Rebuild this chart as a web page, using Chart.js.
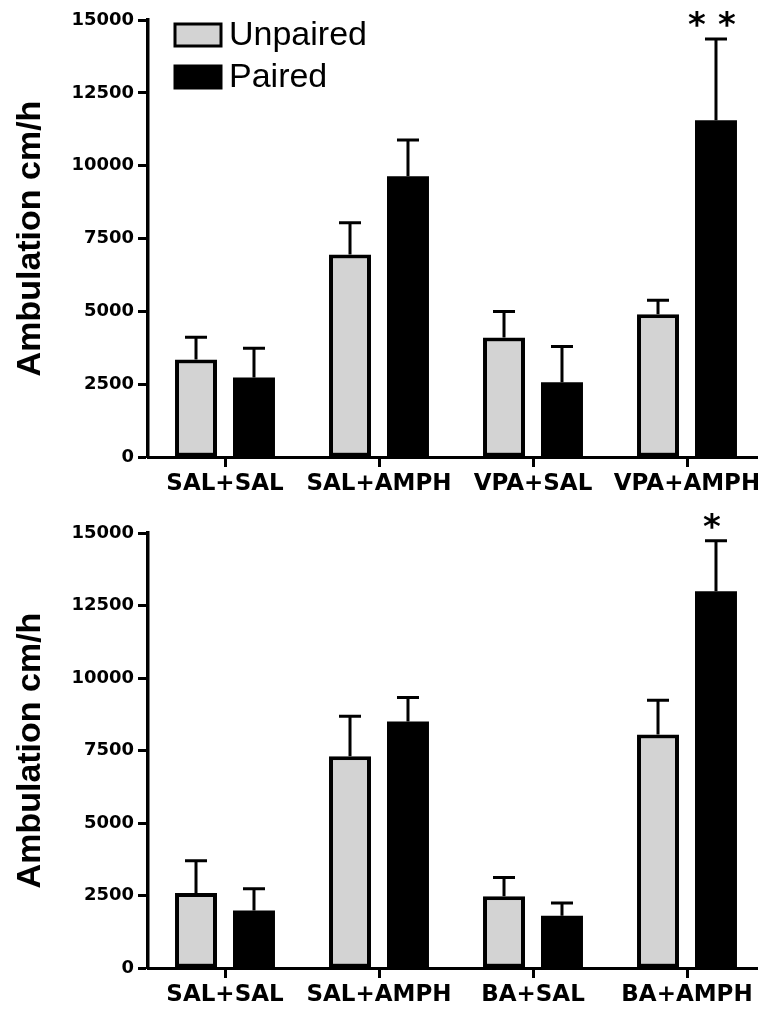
<!DOCTYPE html>
<html><head><meta charset="utf-8">
<script src="https://cdn.jsdelivr.net/npm/chart.js@4.4.1/dist/chart.umd.min.js"></script>
<style>
html,body{margin:0;padding:0;background:#fff;overflow:hidden;width:758px;height:1009px;position:relative;}
#c1{position:absolute;left:0;top:0;}
#c2{position:absolute;left:0;top:500px;}
</style></head><body>
<canvas id="c1" width="766" height="505"></canvas>
<canvas id="c2" width="766" height="509"></canvas>
<script>
// ---- data ----
const seriesNames = ['Unpaired', 'Paired'];
const yTickValues = [0, 2500, 5000, 7500, 10000, 12500, 15000];
const yTitle = 'Ambulation cm/h';

const categoriesTop = ['SAL+SAL', 'SAL+AMPH', 'VPA+SAL', 'VPA+AMPH'];
const unpairedTop = [3350, 6950, 4100, 4900];
const unpairedTopSem = [760, 1090, 890, 480];
const pairedTop = [2730, 9640, 2570, 11560];
const pairedTopSem = [1000, 1240, 1220, 2790];
const starsTop = ['', '', '', '**'];

const categoriesBottom = ['SAL+SAL', 'SAL+AMPH', 'BA+SAL', 'BA+AMPH'];
const unpairedBottom = [2590, 7300, 2470, 8050];
const unpairedBottomSem = [1110, 1380, 655, 1180];
const pairedBottom = [1980, 8500, 1800, 12990];
const pairedBottomSem = [750, 830, 440, 1740];
const starsBottom = ['', '', '', '*'];

const GRAY = '#d3d3d3';

const errorBarPlugin = {
  id: 'errbars',
  afterDatasetsDraw(chart) {
    const ctx = chart.ctx, y = chart.scales.y;
    chart.data.datasets.forEach((ds, di) => {
      const meta = chart.getDatasetMeta(di);
      meta.data.forEach((bar, i) => {
        const v = ds.data[i], e = ds.sem[i];
        const yTop = y.getPixelForValue(v + e);
        const yBar = y.getPixelForValue(v);
        ctx.save();
        ctx.strokeStyle = '#000';
        ctx.lineWidth = 3;
        ctx.beginPath();
        ctx.moveTo(bar.x, yBar); ctx.lineTo(bar.x, yTop);
        ctx.moveTo(bar.x - 11, yTop); ctx.lineTo(bar.x + 11, yTop);
        ctx.stroke();
        const s = ds.stars ? ds.stars[i] : '';
        if (s) {
          ctx.fillStyle = '#000';
          ctx.font = 'bold 34px "DejaVu Sans"';
          ctx.textAlign = 'center';
          ctx.textBaseline = 'alphabetic';
          const n = s.length, gap = 30;
          for (let k = 0; k < n; k++) {
            const x = bar.x - 4 + (k - (n - 1) / 2) * gap;
            ctx.fillText('*', x, yTop - 3);
          }
        }
        ctx.restore();
      });
    });
  }
};

const legendPlugin = {
  id: 'boxLegend',
  afterDraw(chart, args, opts) {
    if (!opts.show) return;
    const ctx = chart.ctx;
    ctx.save();
    chart.data.datasets.forEach((ds, i) => {
      const bx = 175, by = 24 + i * 42, bw = 46, bh = 22;
      ctx.fillStyle = ds.backgroundColor;
      ctx.fillRect(bx, by, bw, bh);
      ctx.strokeStyle = '#000';
      ctx.lineWidth = 3;
      ctx.strokeRect(bx, by, bw, bh);
      ctx.fillStyle = '#000';
      ctx.font = '34px "Liberation Sans"';
      ctx.textAlign = 'left';
      ctx.textBaseline = 'middle';
      ctx.fillText(ds.label, 229, by + bh / 2 + 1);
    });
    ctx.restore();
  }
};

function makeChart(id, cats, u, uSem, p, pSem, stars, padTop, xHeight, showLegend) {
  return new Chart(document.getElementById(id), {
    type: 'bar',
    data: {
      labels: cats,
      datasets: [
        { label: seriesNames[0], data: u, sem: uSem, backgroundColor: GRAY, borderColor: '#000', borderWidth: 4, borderSkipped: false,
          barPercentage: 0.724, categoryPercentage: 0.753 },
        { label: seriesNames[1], data: p, sem: pSem, stars: stars, backgroundColor: '#000', borderColor: '#000', borderWidth: 0,
          barPercentage: 0.724, categoryPercentage: 0.753 }
      ]
    },
    options: {
      responsive: false,
      devicePixelRatio: 1,
      animation: false,
      layout: { padding: { top: padTop, right: 2, left: 0, bottom: 0 } },
      plugins: { legend: { display: false }, tooltip: { enabled: false }, boxLegend: { show: showLegend } },
      scales: {
        x: {
          offset: true,
          afterFit(s) { s.height = xHeight; },
          border: { display: true, color: '#000', width: 3 },
          grid: { offset: false, drawOnChartArea: false, drawTicks: true, tickLength: 10, tickWidth: 3, tickColor: '#000', color: '#000' },
          ticks: { color: '#000', font: { family: 'DejaVu Sans', weight: 'bold', size: 23 }, padding: 3, maxRotation: 0, autoSkip: false }
        },
        y: {
          min: 0, max: 15000,
          afterFit(s) { s.width = 148; },
          afterBuildTicks(s) { s.ticks = yTickValues.map(v => ({ value: v })); },
          border: { display: true, color: '#000', width: 3.5 },
          grid: { drawOnChartArea: false, drawTicks: true, tickLength: 10, tickWidth: 3, tickColor: '#000', color: '#000' },
          ticks: { color: '#000', font: { family: 'DejaVu Sans', weight: 'bold', size: 18 }, padding: 4, callback: v => String(v) },
          title: { display: true, text: yTitle, color: '#000', font: { family: 'Liberation Sans', weight: 'bold', size: 34 }, padding: { top: 10, bottom: 0 } }
        }
      }
    },
    plugins: [errorBarPlugin, legendPlugin]
  });
}

makeChart('c1', categoriesTop, unpairedTop, unpairedTopSem, pairedTop, pairedTopSem, starsTop, 20, 48, true);
makeChart('c2', categoriesBottom, unpairedBottom, unpairedBottomSem, pairedBottom, pairedBottomSem, starsBottom, 33, 41, false);
</script>
</body></html>
